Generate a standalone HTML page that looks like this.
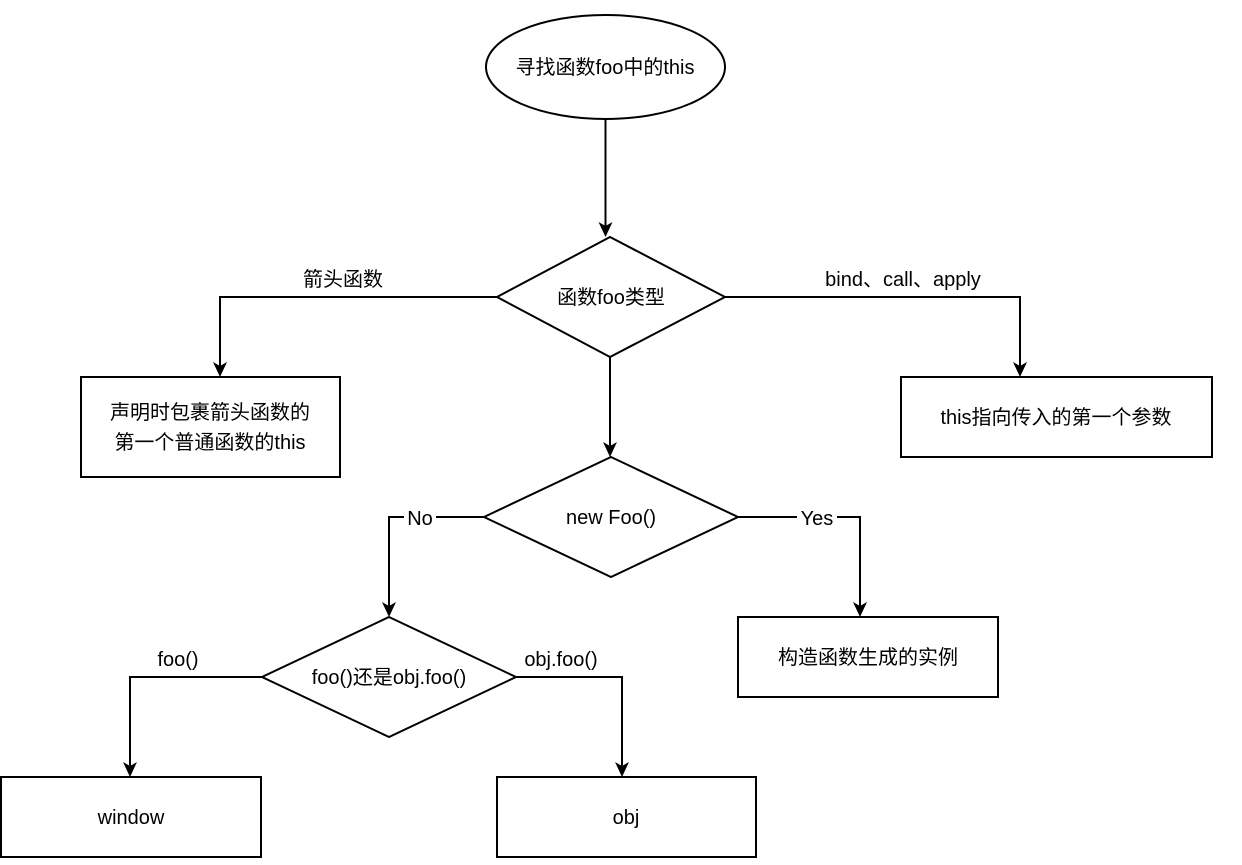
<!DOCTYPE html>
<html><head><meta charset="utf-8"><style>
html,body{margin:0;padding:0;background:#fff;}
text{font-family:"Liberation Sans","Noto Sans CJK SC",sans-serif;font-size:20px;fill:#000;}
</style></head><body>
<svg width="1242" height="860" viewBox="0 0 1242 860" xmlns="http://www.w3.org/2000/svg">
<defs>
<marker id="a" markerWidth="12" markerHeight="14" refX="6" refY="13" orient="auto" markerUnits="userSpaceOnUse" viewBox="0 0 12 14">
</marker>
</defs>
<g fill="none" stroke="#000" stroke-width="2">
<ellipse cx="605.5" cy="67" rx="119.5" ry="52" fill="#fff"/>
<polygon points="610,237 725,297 610,357 497,297" fill="#fff"/>
<rect x="81" y="377" width="259" height="100" fill="#fff"/>
<rect x="901" y="377" width="311" height="80" fill="#fff"/>
<polygon points="611,457 738,517 611,577 484,517" fill="#fff"/>
<rect x="738" y="617" width="260" height="80" fill="#fff"/>
<polygon points="389,617 516,677 389,737 262,677" fill="#fff"/>
<rect x="1" y="777" width="260" height="80" fill="#fff"/>
<rect x="497" y="777" width="259" height="80" fill="#fff"/>
<!-- connectors -->
<path d="M605.5 119 V228"/>
<path d="M497 297 H220 V368"/>
<path d="M725 297 H1020 V368"/>
<path d="M610 357 V448"/>
<path d="M484 517 H389 V608"/>
<path d="M738 517 H860 V608"/>
<path d="M262 677 H130 V768"/>
<path d="M516 677 H622 V768"/>
</g>
<g fill="#000">
<path d="M605.5 237 l-7 -15 l7 4 l7 -4z"/>
<path d="M220 377 l-7 -15 l7 4 l7 -4z"/>
<path d="M1020 377 l-7 -15 l7 4 l7 -4z"/>
<path d="M610 457 l-7 -15 l7 4 l7 -4z"/>
<path d="M389 617 l-7 -15 l7 4 l7 -4z"/>
<path d="M860 617 l-7 -15 l7 4 l7 -4z"/>
<path d="M130 777 l-7 -15 l7 4 l7 -4z"/>
<path d="M622 777 l-7 -15 l7 4 l7 -4z"/>
</g>
<!-- label backgrounds -->
<rect x="404" y="506" width="32" height="22" fill="#fff"/>
<rect x="797" y="506" width="40" height="22" fill="#fff"/>
<g text-anchor="middle">
<text x="605" y="74">寻找函数foo中的this</text>
<text x="611" y="304">函数foo类型</text>
<text x="210" y="419">声明时包裹箭头函数的</text>
<text x="210" y="449">第一个普通函数的this</text>
<text x="1056" y="424">this指向传入的第一个参数</text>
<text x="611" y="524">new Foo()</text>
<text x="868" y="664">构造函数生成的实例</text>
<text x="389" y="684">foo()还是obj.foo()</text>
<text x="131" y="824">window</text>
<text x="626" y="824">obj</text>
<text x="343" y="286">箭头函数</text>
<text x="903" y="286">bind、call、apply</text>
<text x="420" y="525">No</text>
<text x="817" y="525">Yes</text>
<text x="178" y="666">foo()</text>
<text x="561" y="666">obj.foo()</text>
</g>
</svg>
</body></html>
